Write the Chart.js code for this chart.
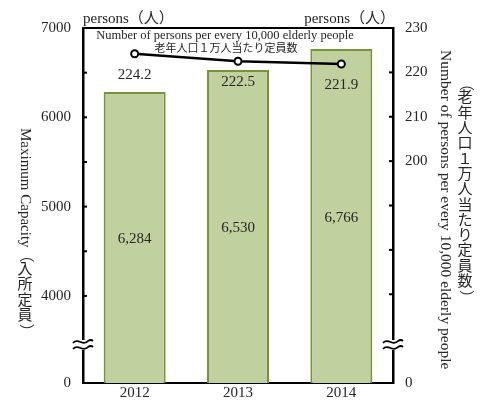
<!DOCTYPE html>
<html>
<head>
<meta charset="utf-8">
<script src="https://cdn.jsdelivr.net/npm/chart.js@4.4.1/dist/chart.umd.min.js"></script>
<style>
  body { margin: 0; background: #fff; }
  canvas { display: block; }
</style>
</head>
<body>
<canvas id="chart" width="480" height="404"></canvas>
<script>
"use strict";

// Data
const years = ['2012', '2013', '2014'];
const capacity = [6284, 6530, 6766];
const perElderly = [224.2, 222.5, 221.9];

// Axis ticks (bottom of each axis is a broken axis labelled "0")
const leftMin = 3025;
const leftMax = 7000;
const leftTicks = [4000, 4500, 5000, 5500, 6000, 6500, 7000];
const leftLabelled = [4000, 5000, 6000, 7000];
const rightMin = 150;
const rightMax = 230;
const rightTicks = [170, 180, 190, 200, 210, 220, 230];
const rightLabelled = [200, 210, 220, 230];

const serif = '"Liberation Serif", "Noto Sans CJK JP", serif';
const textColor = '#262626';

// Text written top to bottom: ideographs upright, latin rotated
function drawVertical(ctx, text, x, y, size) {
    ctx.save();
    ctx.font = size + 'px ' + serif;
    ctx.fillStyle = textColor;
    const isUpright = ch => {
        const c = ch.charCodeAt(0);
        return c >= 0x3040 && c !== 0xFF08 && c !== 0xFF09;
    };
    let run = '';
    const flush = () => {
        if (!run) return;
        ctx.save();
        ctx.translate(x, y);
        ctx.rotate(Math.PI / 2);
        ctx.textAlign = 'left';
        ctx.textBaseline = 'middle';
        ctx.fillText(run, 0, 0);
        ctx.restore();
        y += ctx.measureText(run).width;
        run = '';
    };
    for (const ch of text) {
        if (isUpright(ch)) {
            flush();
            ctx.textAlign = 'center';
            ctx.textBaseline = 'middle';
            ctx.fillText(ch, x, y + size / 2);
            y += size * 1.02;
        } else {
            run += ch;
        }
    }
    flush();
    ctx.restore();
}

function drawBreak(ctx, x, y) {
    ctx.save();
    ctx.fillStyle = '#fff';
    ctx.fillRect(x - 3, y - 5, 6, 10);
    ctx.strokeStyle = '#000';
    ctx.lineWidth = 1.8;
    [-3, 3].forEach(dy => {
        ctx.beginPath();
        ctx.moveTo(x - 10, y + dy + 1);
        ctx.bezierCurveTo(x - 5, y + dy - 5, x, y + dy + 5, x + 5, y + dy - 1);
        ctx.quadraticCurveTo(x + 8, y + dy - 3, x + 10, y + dy - 1);
        ctx.stroke();
    });
    ctx.restore();
}

const decorations = {
    id: 'decorations',
    afterDatasetsDraw(chart) {
        const ctx = chart.ctx;
        const area = chart.chartArea;
        const yL = chart.scales.y;
        const yR = chart.scales.y1;

        ctx.save();
        // Frame top line
        ctx.strokeStyle = '#000';
        ctx.lineWidth = 2;
        ctx.beginPath();
        ctx.moveTo(area.left, area.top);
        ctx.lineTo(area.right, area.top);
        ctx.stroke();

        // Inward tick marks
        ctx.lineWidth = 2;
        leftTicks.forEach(v => {
            const py = yL.getPixelForValue(v);
            ctx.beginPath();
            ctx.moveTo(area.left, py);
            ctx.lineTo(area.left + 4, py);
            ctx.stroke();
        });
        rightTicks.forEach(v => {
            const py = yR.getPixelForValue(v);
            ctx.beginPath();
            ctx.moveTo(area.right, py);
            ctx.lineTo(area.right - 4, py);
            ctx.stroke();
        });

        // Axis breaks
        drawBreak(ctx, area.left, 345);
        drawBreak(ctx, area.right, 345);

        // Bar value labels, centred in the visible bar
        ctx.fillStyle = textColor;
        ctx.font = '15px ' + serif;
        ctx.textAlign = 'center';
        ctx.textBaseline = 'middle';
        chart.getDatasetMeta(1).data.forEach((bar, i) => {
            const mid = (bar.y + area.bottom) / 2 + 2;
            ctx.fillText(capacity[i].toLocaleString('en-US'), bar.x, mid);
        });
        // Line value labels
        chart.getDatasetMeta(0).data.forEach((pt, i) => {
            ctx.fillText(perElderly[i].toFixed(1), pt.x, pt.y + 21);
        });

        // Series caption inside the plot
        ctx.font = '12.5px ' + serif;
        ctx.fillText('Number of persons per every 10,000 elderly people', 225, 36);
        ctx.font = '11px ' + serif;
        ctx.fillText('老年人口１万人当たり定員数', 226, 49);

        // Units above the axes
        ctx.font = '15px ' + serif;
        ctx.textAlign = 'left';
        ctx.fillText('persons（人）', area.left, 19);
        ctx.textAlign = 'right';
        ctx.fillText('persons（人）', area.right + 2, 19);
        ctx.restore();

        // Axis titles
        drawVertical(ctx, 'Maximum Capacity（入所定員）', 25, 128, 15);
        drawVertical(ctx, 'Number of persons per every 10,000 elderly people', 445, 50, 15.5);
        drawVertical(ctx, '（老年人口１万人当たり定員数）', 465, 76, 15);
    }
};

new Chart(document.getElementById('chart'), {
    data: {
        labels: years,
        datasets: [{
            type: 'line',
            data: perElderly,
            yAxisID: 'y1',
            order: 0,
            borderColor: '#000',
            borderWidth: 2.5,
            pointRadius: 3.5,
            pointBorderWidth: 2,
            pointBackgroundColor: '#fff',
            pointBorderColor: '#000'
        }, {
            type: 'bar',
            data: capacity,
            yAxisID: 'y',
            order: 1,
            backgroundColor: '#c0d09e',
            borderColor: '#77933c',
            borderWidth: 2,
            barPercentage: 0.6,
            categoryPercentage: 1
        }]
    },
    options: {
        responsive: false,
        animation: false,
        layout: { padding: { top: 28, left: 0, right: 0, bottom: 0 } },
        plugins: {
            legend: { display: false },
            tooltip: { enabled: false }
        },
        scales: {
            x: {
                grid: { display: false, drawTicks: false },
                border: { color: '#000', width: 2 },
                ticks: { color: textColor, font: { family: serif, size: 15 }, padding: 1 },
                afterFit: s => { s.height = 19; }
            },
            y: {
                position: 'left',
                min: leftMin,
                max: leftMax,
                grid: { display: false, drawTicks: false },
                border: { color: '#000', width: 2.5 },
                afterBuildTicks: s => {
                    s.ticks = [leftMin, ...leftLabelled].map(v => ({ value: v }));
                },
                ticks: {
                    color: textColor,
                    font: { family: serif, size: 15 },
                    padding: 12,
                    callback: v => (v === leftMin ? '0' : v)
                },
                afterFit: s => { s.width = 83; }
            },
            y1: {
                position: 'right',
                min: rightMin,
                max: rightMax,
                grid: { display: false, drawTicks: false },
                border: { color: '#000', width: 2.5 },
                afterBuildTicks: s => {
                    s.ticks = [rightMin, ...rightLabelled].map(v => ({ value: v }));
                },
                ticks: {
                    color: textColor,
                    font: { family: serif, size: 15 },
                    padding: 12,
                    callback: v => (v === rightMin ? '0' : v)
                },
                afterFit: s => { s.width = 87; }
            }
        }
    },
    plugins: [decorations]
});
</script>
</body>
</html>
